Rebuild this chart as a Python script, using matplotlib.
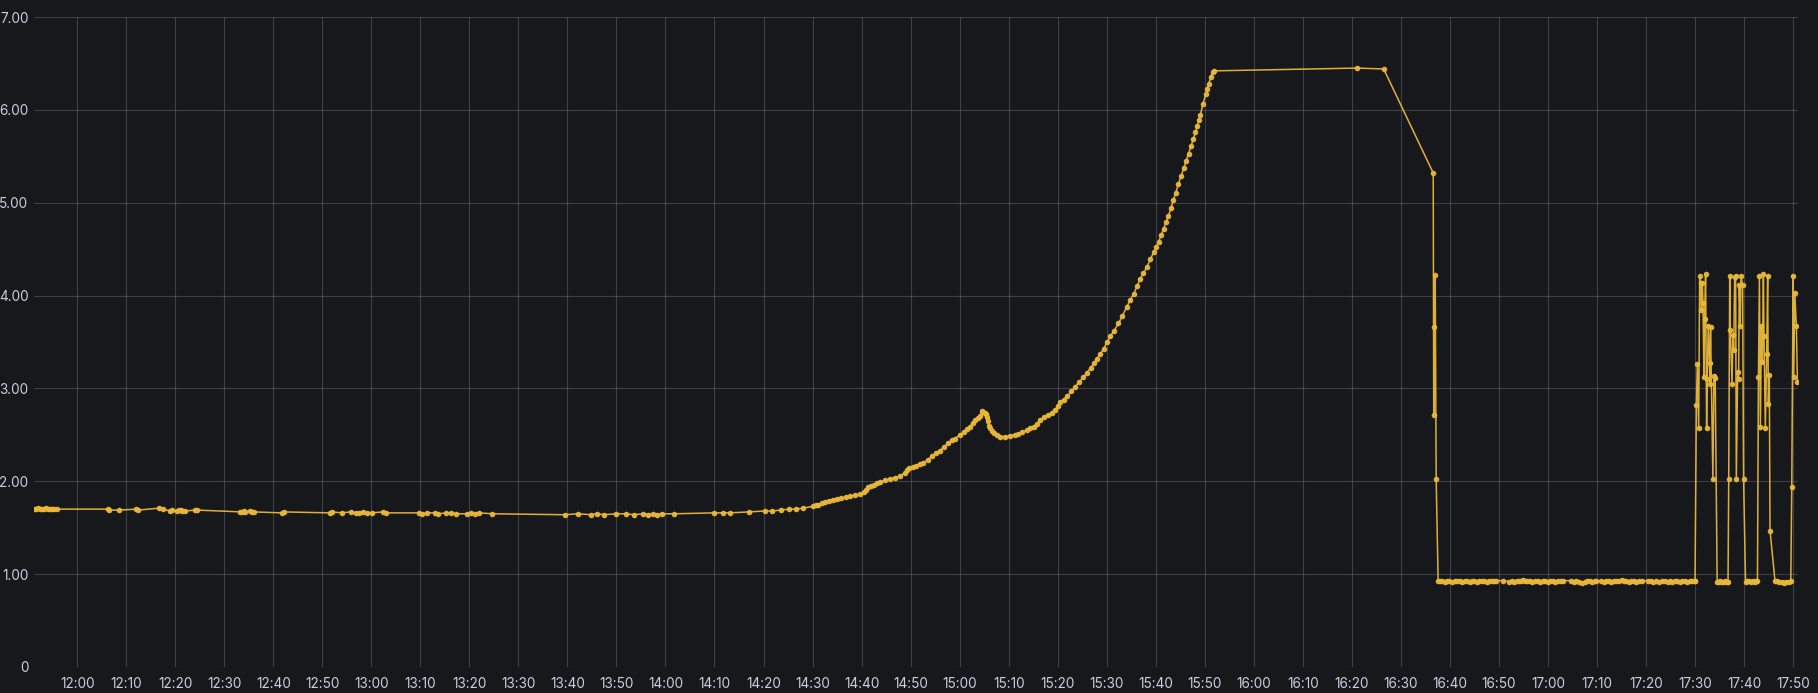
import datetime as dt
import matplotlib
matplotlib.use("Agg")
import matplotlib.pyplot as plt
import matplotlib.dates as mdates

# minutes after 12:00, value
early_min = [-8.7, -8.3, -7.9, -7.5, -7.1, -6.7, -6.3, -5.9, -5.5, -5.1, -4.7, -4.2,
             6.2, 6.5, 8.6, 12.1, 12.5, 16.6, 17.5, 19.0, 19.3, 20.3, 20.7, 21.1, 21.4, 22.0, 24.1, 24.5,
             33.2, 33.6, 34.0, 34.3, 35.3, 35.7, 36.1, 41.7, 42.1,
             51.5, 51.9, 54.0, 55.8, 56.8, 57.5, 58.4, 59.1, 60.1, 62.4, 63.0,
             69.8, 70.4, 71.3, 72.9, 73.6, 75.3, 76.2, 77.3, 79.6, 80.3, 81.2, 82.0, 84.7,
             99.5, 102.2, 104.8, 106.0, 107.5, 110.0, 112.0, 113.5, 115.5, 116.5, 117.4, 118.3, 119.2, 121.8,
             130.0, 131.7, 133.1, 137.0, 140.2, 141.8, 143.6, 145.2, 146.6, 148.0]
early_val = [1.70, 1.70, 1.71, 1.70, 1.70, 1.70, 1.71, 1.70, 1.70, 1.70, 1.70, 1.70,
             1.70, 1.69, 1.69, 1.70, 1.69, 1.71, 1.70, 1.68, 1.69, 1.68, 1.69, 1.69, 1.68, 1.68, 1.69, 1.69,
             1.67, 1.67, 1.68, 1.67, 1.68, 1.67, 1.67, 1.66, 1.67,
             1.66, 1.67, 1.66, 1.67, 1.66, 1.66, 1.67, 1.66, 1.66, 1.67, 1.66,
             1.66, 1.65, 1.66, 1.66, 1.65, 1.66, 1.66, 1.65, 1.65, 1.66, 1.65, 1.66, 1.65,
             1.64, 1.65, 1.64, 1.65, 1.64, 1.65, 1.65, 1.64, 1.65, 1.64, 1.65, 1.64, 1.65, 1.65,
             1.66, 1.66, 1.66, 1.67, 1.68, 1.68, 1.69, 1.70, 1.70, 1.71]

rise_min = [150.0, 150.7, 151.2, 151.9, 152.6, 153.4, 154.2, 155.0, 155.9, 156.8, 157.7, 158.7, 159.7,
            160.5, 160.9, 161.3, 161.9, 162.5, 163.2, 163.8, 164.8, 165.8, 166.8, 167.9, 168.8, 169.3,
            169.6, 170.4, 171.2, 171.9, 172.6, 173.5, 174.3, 175.1, 176.0, 176.8, 177.7, 178.4, 179.1,
            180.0, 180.8, 181.5, 182.1, 182.7, 183.2, 183.7, 184.2, 184.5, 184.8, 185.1, 185.3, 185.5,
            185.7, 185.9, 186.2, 186.6, 187.1, 187.6, 188.3, 189.3, 190.3, 191.2, 192.0, 192.8, 193.7,
            194.4, 195.1, 195.8, 196.4, 197.2, 198.1, 198.8, 199.5, 200.0, 200.4, 201.2, 202.0, 202.8,
            203.6, 204.4, 205.2, 206.0, 206.7, 207.4, 208.0, 208.7, 209.4, 210.1, 210.7, 211.5, 212.4,
            213.2, 214.1, 214.8, 215.5, 216.2, 216.8, 217.5, 218.2, 218.9, 219.6, 220.1, 220.6, 221.1,
            221.6, 222.1, 222.6, 223.1, 223.6, 224.1, 224.6, 225.2, 225.7, 226.2, 226.7, 227.2, 227.7,
            228.1, 228.5, 228.8, 229.1, 229.6, 230.2, 230.5, 230.8, 231.2, 231.6, 231.9]
rise_val = [1.73, 1.74, 1.75, 1.77, 1.78, 1.79, 1.80, 1.81, 1.82, 1.83, 1.84, 1.85, 1.86,
            1.88, 1.91, 1.94, 1.95, 1.96, 1.98, 1.99, 2.01, 2.02, 2.04, 2.06, 2.09, 2.12,
            2.14, 2.15, 2.17, 2.19, 2.20, 2.23, 2.27, 2.30, 2.33, 2.37, 2.41, 2.44, 2.46,
            2.50, 2.53, 2.56, 2.59, 2.63, 2.66, 2.68, 2.70, 2.76, 2.75, 2.74, 2.72, 2.69,
            2.65, 2.60, 2.57, 2.54, 2.52, 2.50, 2.48, 2.48, 2.49, 2.50, 2.51, 2.53, 2.55,
            2.57, 2.59, 2.62, 2.66, 2.69, 2.71, 2.74, 2.77, 2.81, 2.85, 2.88, 2.92, 2.97,
            3.02, 3.07, 3.12, 3.17, 3.22, 3.27, 3.32, 3.37, 3.43, 3.50, 3.56, 3.62, 3.70,
            3.78, 3.88, 3.95, 4.02, 4.10, 4.18, 4.24, 4.31, 4.39, 4.47, 4.52, 4.58, 4.65,
            4.72, 4.79, 4.86, 4.94, 5.03, 5.11, 5.20, 5.29, 5.37, 5.45, 5.53, 5.61, 5.69,
            5.76, 5.83, 5.89, 5.94, 6.06, 6.17, 6.23, 6.28, 6.35, 6.41, 6.42]

plateau_min = [261.1, 266.5, 276.6, 276.7, 276.8, 277.0, 277.2, 277.6]
plateau_val = [6.45, 6.44, 5.32, 2.71, 3.66, 4.22, 2.02, 0.93]

low_min = [277.9, 278.4, 278.9, 279.4, 279.9, 280.4, 281.0, 281.5, 282.0, 282.5, 283.0, 283.5,
           284.0, 284.5, 285.0, 285.5, 286.0, 286.5, 287.0, 287.5, 288.0, 288.5, 289.0, 289.5,
           290.9, 292.1, 292.6, 293.1, 293.6, 294.1, 294.6, 295.0, 295.3,
           295.8, 296.3, 296.8, 297.4, 297.9, 298.4, 298.9, 299.4, 300.0, 300.5, 301.0, 301.5, 302.0, 302.6, 303.1,
           304.8, 305.3, 305.8, 306.3, 306.9, 307.5, 308.0, 308.5, 309.0, 309.5, 309.9,
           310.9, 311.4, 311.9, 312.4, 312.9, 313.4, 313.9, 314.4, 315.0, 315.5, 316.0, 316.5, 317.0,
           317.5, 318.0, 318.6, 319.1,
           320.5, 321.0, 321.5, 322.0, 322.6, 323.2,
           323.9, 324.4, 324.9, 325.4, 325.9, 326.4, 326.9, 327.4, 327.9, 328.4, 328.9, 329.4, 329.9]
low_val = [0.93, 0.93, 0.92, 0.93, 0.93, 0.92, 0.93, 0.93, 0.93, 0.92, 0.93, 0.93,
           0.92, 0.93, 0.93, 0.92, 0.93, 0.93, 0.93, 0.92, 0.93, 0.93, 0.93, 0.93,
           0.93, 0.92, 0.93, 0.92, 0.93, 0.93, 0.93, 0.94, 0.93,
           0.93, 0.93, 0.92, 0.93, 0.93, 0.92, 0.93, 0.93, 0.92, 0.93, 0.93, 0.92, 0.93, 0.93, 0.93,
           0.93, 0.92, 0.93, 0.92, 0.91, 0.92, 0.93, 0.93, 0.92, 0.93, 0.93,
           0.93, 0.92, 0.93, 0.93, 0.92, 0.93, 0.93, 0.93, 0.94, 0.93, 0.93, 0.92, 0.93,
           0.93, 0.92, 0.93, 0.93,
           0.93, 0.93, 0.92, 0.93, 0.92, 0.93,
           0.93, 0.92, 0.93, 0.92, 0.93, 0.93, 0.92, 0.93, 0.93, 0.92, 0.93, 0.93, 0.93]

spike_min = [330.0, 330.27, 330.47, 330.74, 330.94, 331.14, 331.28, 331.48, 331.62, 331.82, 331.95,
             332.15, 332.36, 332.49, 332.69, 332.96, 333.03, 333.16, 333.64, 333.84, 334.11, 334.51,
             334.85, 335.19, 335.52, 335.86, 336.2, 336.53, 336.73,
             336.87, 337.07, 337.21, 337.54, 337.74, 337.88, 338.08, 338.28, 338.42, 338.69, 338.89,
             339.02, 339.23, 339.36, 339.70, 339.90, 340.30,
             340.57, 340.98, 341.38, 341.78, 342.19, 342.53, 342.73,
             342.93, 343.13, 343.33, 343.54, 343.74, 343.94, 344.07, 344.34, 344.61, 344.81, 344.95,
             345.15, 345.29, 346.30,
             346.63, 347.10, 347.64, 348.11, 348.65, 349.19, 349.53,
             349.73, 350.0, 350.13, 350.34, 350.67, 350.88]
spike_val = [0.93, 2.82, 3.26, 2.57, 4.21, 4.14, 3.85, 4.14, 3.92, 3.12, 3.75,
             4.23, 2.57, 3.10, 3.67, 3.27, 3.05, 3.66, 2.02, 3.13, 3.11, 0.92,
             0.92, 0.93, 0.92, 0.92, 0.93, 0.92, 0.92,
             2.03, 4.21, 3.63, 3.05, 3.58, 3.41, 4.20, 4.21, 2.03, 3.18, 3.10,
             4.11, 3.67, 4.21, 4.11, 2.02, 0.92,
             0.93, 0.93, 0.92, 0.93, 0.92, 0.93, 0.93,
             3.12, 4.21, 2.58, 3.67, 3.28, 4.23, 3.56, 2.57, 3.37, 4.21, 2.83,
             3.14, 1.47, 0.93,
             0.93, 0.92, 0.92, 0.91, 0.92, 0.92, 0.93,
             1.94, 4.21, 3.12, 4.03, 3.67, 3.07]

y_ticks = [0, 1, 2, 3, 4, 5, 6, 7]
y_labels = ["0", "1.00", "2.00", "3.00", "4.00", "5.00", "6.00", "7.00"]

BG = "#17181c"
TEXT = "#ccccdc"
LINE = "#eab839"

plt.rcParams["font.family"] = ["Inter", "DejaVu Sans"]

base = dt.datetime(2024, 1, 1, 12, 0)
minutes = early_min + rise_min + plateau_min + low_min + spike_min
values = early_val + rise_val + plateau_val + low_val + spike_val
times = [base + dt.timedelta(minutes=m) for m in minutes]

fig = plt.figure(figsize=(18.18, 6.93), dpi=100, facecolor=BG)
ax = fig.add_axes([34 / 1818, 26 / 693, 1764 / 1818, 650 / 693])
ax.set_facecolor(BG)

ax.plot(times, values, color=LINE, linewidth=1.1, alpha=0.95,
        marker="o", markersize=4.0, markeredgewidth=0, zorder=3)

ax.set_xlim(base - dt.timedelta(minutes=8.8), base + dt.timedelta(minutes=351.0))
ax.set_ylim(0, 7)
ax.set_yticks(y_ticks)
ax.set_yticklabels(y_labels)

ax.xaxis.set_major_locator(mdates.MinuteLocator(byminute=range(0, 60, 10)))
ax.xaxis.set_major_formatter(mdates.DateFormatter("%H:%M"))

for s in ax.spines.values():
    s.set_visible(False)
ax.grid(True, color=TEXT, alpha=0.22, linewidth=0.8)
ax.set_axisbelow(True)
ax.tick_params(axis="both", length=0, colors=TEXT, labelsize=9.8)
ax.tick_params(axis="y", pad=4)
ax.tick_params(axis="x", pad=7)

fig.savefig("out.png", dpi=100, facecolor=BG)
